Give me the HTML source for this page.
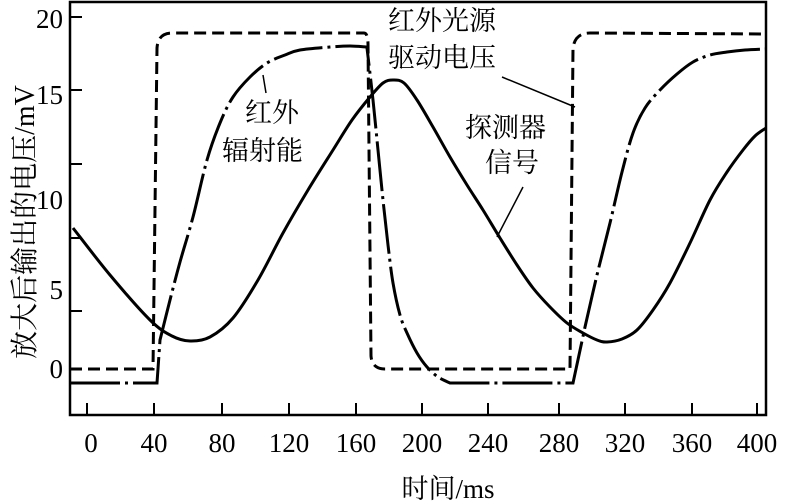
<!DOCTYPE html>
<html><head><meta charset="utf-8"><style>
html,body{margin:0;padding:0;background:#fff;}
svg{display:block;}
text{font-family:"Liberation Serif","Noto Serif CJK SC",serif;fill:#000;}
</style></head><body>
<svg id="s" width="788" height="504" viewBox="0 0 788 504" xmlns="http://www.w3.org/2000/svg">
<rect x="70" y="2" width="696" height="413" fill="none" stroke="#000" stroke-width="2.5"/>
<g stroke="#000" stroke-width="2">
<line x1="70" y1="17" x2="82" y2="17"/><line x1="70" y1="90" x2="82" y2="90"/>
<line x1="70" y1="164" x2="82" y2="164"/><line x1="70" y1="238" x2="82" y2="238"/>
<line x1="70" y1="311" x2="82" y2="311"/>
<line x1="87" y1="403" x2="87" y2="415"/><line x1="154" y1="403" x2="154" y2="415"/>
<line x1="222" y1="403" x2="222" y2="415"/><line x1="289" y1="403" x2="289" y2="415"/>
<line x1="356" y1="403" x2="356" y2="415"/><line x1="422" y1="403" x2="422" y2="415"/>
<line x1="488" y1="403" x2="488" y2="415"/><line x1="559" y1="403" x2="559" y2="415"/>
<line x1="625" y1="403" x2="625" y2="415"/><line x1="692" y1="403" x2="692" y2="415"/>
<line x1="757" y1="403" x2="757" y2="415"/>
</g>
<g font-size="27" text-anchor="end">
<text x="63" y="28">20</text><text x="63" y="104">15</text><text x="63" y="209">10</text>
<text x="63" y="299">5</text><text x="63" y="378">0</text>
</g>
<g font-size="27" text-anchor="middle">
<text x="91" y="452">0</text><text x="154" y="452">40</text><text x="222" y="452">80</text>
<text x="289" y="452">120</text><text x="356" y="452">160</text><text x="422" y="452">200</text>
<text x="488" y="452">240</text><text x="559" y="452">280</text><text x="625" y="452">320</text>
<text x="692" y="452">360</text><text x="757" y="452">400</text>
</g>
<text x="448" y="498" font-size="27" text-anchor="middle">时间/ms</text>
<text transform="translate(34,222) rotate(-90)" font-size="28" text-anchor="middle">放大后输出的电压/mV</text>
<path d="M70,369 L153,369 L157,48 Q158,33 172,33 L364,33 Q368,33 368,45 L371,356 Q372,369 385,369 L570,369 L573,48 Q575,33 590,33 L766,34" fill="none" stroke="#000" stroke-width="3" stroke-dasharray="12,6"/>
<path id="dd" d="" fill="none" stroke="#000" stroke-width="3" stroke-dasharray="50,5,3,5"/>
<path id="sd" d="" fill="none" stroke="#000" stroke-width="3"/>
<g stroke="#000" stroke-width="1.5">
<line x1="502" y1="77" x2="575" y2="107"/>
<line x1="263" y1="75" x2="266" y2="93"/>
<line x1="523" y1="187" x2="497" y2="237"/>
</g>
<g font-size="27">
<text x="388" y="30">红外光源</text>
<text x="388" y="67">驱动电压</text>
<text x="245" y="122">红外</text>
<text x="222" y="160">辐射能</text>
<text x="465" y="137">探测器</text>
<text x="485" y="172">信号</text>
</g>
</svg>
<script>
function cr(pts){var d="M"+pts[0][0]+","+pts[0][1];
for(var i=0;i<pts.length-1;i++){var p0=pts[i-1]||pts[i],p1=pts[i],p2=pts[i+1],p3=pts[i+2]||p2;
var c1=[p1[0]+(p2[0]-p0[0])/6,p1[1]+(p2[1]-p0[1])/6],c2=[p2[0]-(p3[0]-p1[0])/6,p2[1]-(p3[1]-p1[1])/6];
d+=" C"+c1+" "+c2+" "+p2;}return d;}
var sd=[[73,228],[110,275],[150,320],[172,336],[190,341],[210,337],[233,318],[258,280],[283,233],[308,190],[333,150],[352,120],[370,97],[383,83],[393,80],[404,83],[417,100],[433,127],[450,157],[467,185],[483,210],[500,238],[517,265],[533,288],[550,307],[567,323],[583,333],[597,340],[607,342],[622,339],[637,330],[653,310],[670,283],[690,243],[710,200],[727,172],[743,150],[755,136],[766,128]];
document.getElementById("sd").setAttribute("d",cr(sd));
var a=[[160,340],[170,300],[180,262],[193,217],[207,160],[220,123],[233,97],[250,77],[267,63],[285,55],[300,50],[330,47],[350,46],[366,47]];
var b=[[367,48],[373,100],[378,150],[383,200],[388,245],[393,283],[400,315],[407,333],[417,353],[427,367],[438,377],[450,383]];
var c=[[585,327],[597,275],[610,223],[622,172],[633,133],[645,108],[660,90],[677,74],[693,62],[710,55],[727,52],[745,50],[766,49]];
var d="M70,383 L157,383 L160,340 "+cr(a).slice(1).replace(/^[^C]*/,"").replace(/^/,"")+" L"+b[0]+" "+cr(b).replace(/^M[^C]*/,"")+" L573,383 L585,327 "+cr(c).replace(/^M[^C]*/,"");
document.getElementById("dd").setAttribute("d",d);
</script>
</body></html>
